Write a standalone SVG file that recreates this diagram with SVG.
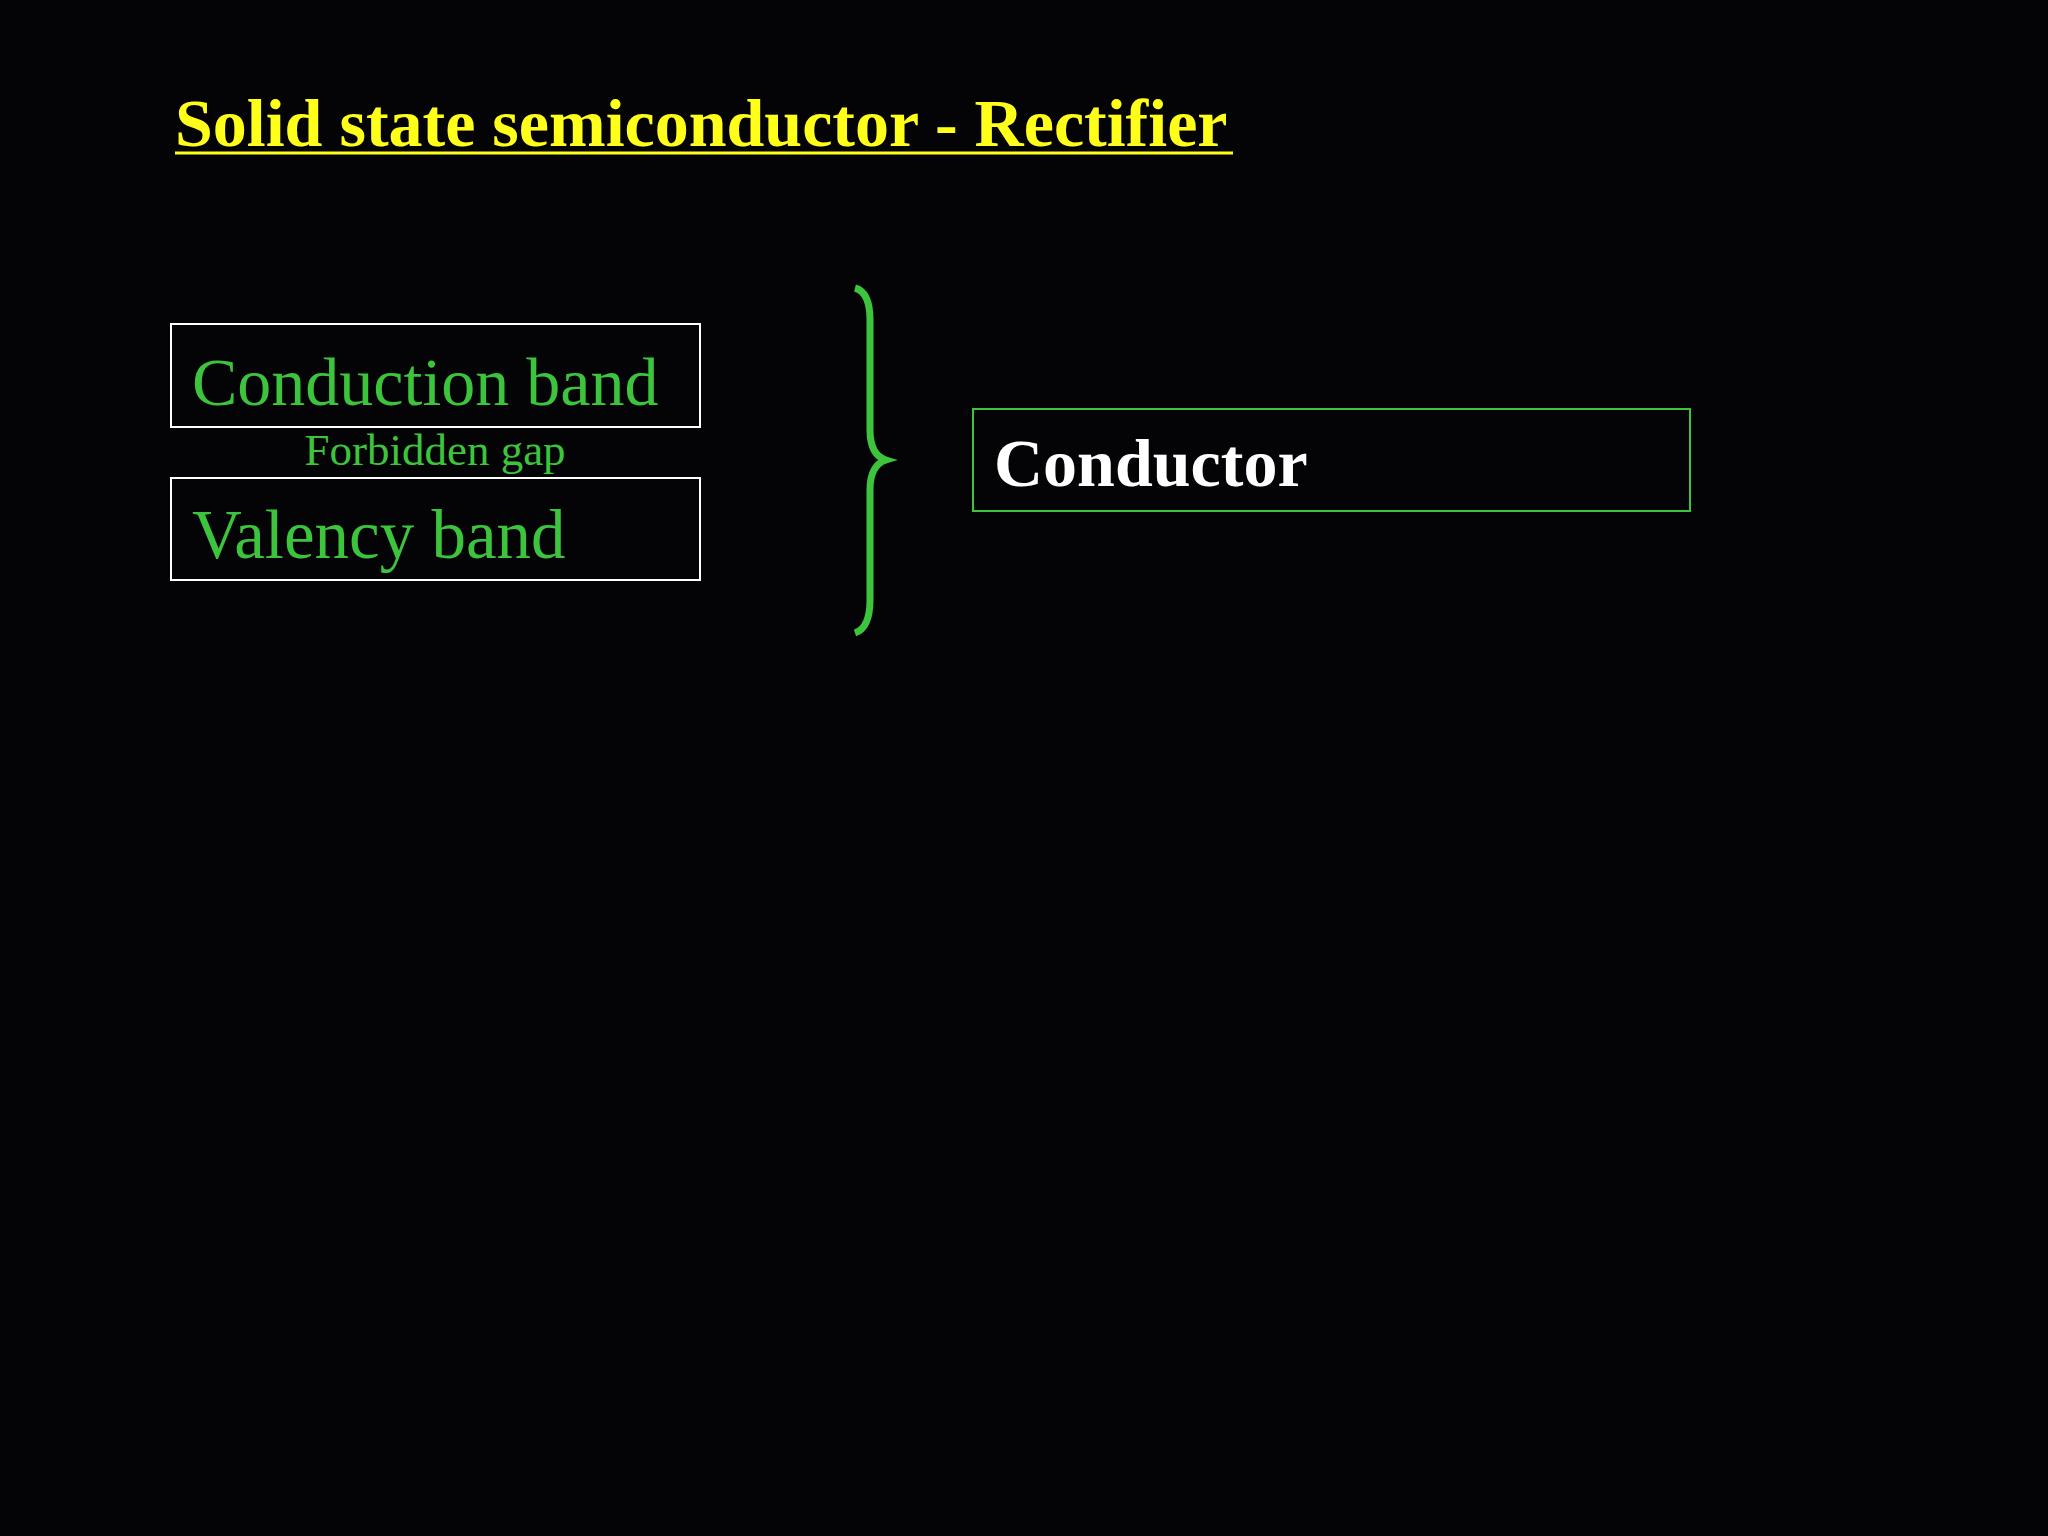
<svg xmlns="http://www.w3.org/2000/svg" width="2048" height="1536" viewBox="0 0 2048 1536">
<style>
.g{fill:#3dc43d;font-family:"Liberation Serif",serif}
.box{fill:none;stroke:#fff;stroke-width:2}
</style>
<rect width="2048" height="1536" fill="#040406"/>
<g id="title"><text x="175" y="146" font-family="Liberation Serif,serif" font-weight="bold" font-size="68" fill="#ffff1a">Solid state semiconductor - Rectifier</text>
<line x1="175" y1="153" x2="1233" y2="153" stroke="#ffff1a" stroke-width="3"/></g>
<g id="conduction"><rect class="box" x="171" y="324" width="529" height="103"/><text class="g" x="192" y="405" font-size="68">Conduction band</text></g>
<g id="gap"><text class="g" x="435" y="465" font-size="45" text-anchor="middle">Forbidden gap</text></g>
<g id="valency"><rect class="box" x="171" y="478" width="529" height="102"/><text class="g" x="192" y="558" font-size="69">Valency band</text></g>
<g id="connectors"><path d="M855,288 Q870,292 870,320 L870,430 Q870,455 886,460 Q870,465 870,490 L870,600 Q870,628 855,633" fill="none" stroke="#3dc43d" stroke-width="7"/></g>
<g id="conductor"><rect x="973" y="409" width="717" height="102" fill="none" stroke="#3dc43d" stroke-width="2"/><text x="994" y="486" font-family="Liberation Serif,serif" font-weight="bold" font-size="68" fill="#fff">Conductor</text></g>
</svg>
